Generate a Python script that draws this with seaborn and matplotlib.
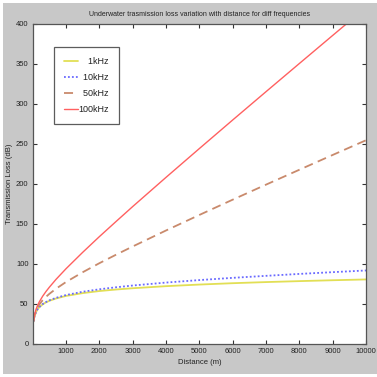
import numpy as np
import pandas as pd
import seaborn as sns
import matplotlib.pyplot as plt
from matplotlib.patches import Rectangle

# Distance samples (m) and transmission loss (dB) per frequency
distance = [25, 50, 100, 150, 200, 300, 400, 500, 700, 1000, 1500, 2000, 2500,
            3000, 4000, 5000, 6000, 7000, 8000, 9000, 10000]
tl_1khz = [28.0, 34.0, 40.0, 43.5, 46.0, 49.6, 52.1, 54.0, 56.9, 60.1, 63.6, 66.2,
           68.1, 69.7, 72.3, 74.3, 76.0, 77.4, 78.6, 79.7, 80.7]
tl_10khz = [28.0, 34.0, 40.1, 43.7, 46.3, 49.9, 52.5, 54.6, 57.7, 61.2, 65.3, 68.4,
            70.9, 73.1, 76.8, 79.9, 82.7, 85.2, 87.6, 89.8, 91.9]
tl_50khz = [28.4, 34.9, 41.7, 46.1, 49.5, 54.8, 59.0, 62.7, 69.1, 77.5, 89.7, 101.0,
            111.6, 121.9, 141.9, 161.3, 180.4, 199.2, 217.8, 236.3, 254.7]
tl_100khz = [28.8, 35.7, 43.4, 48.6, 52.8, 59.8, 65.7, 71.0, 80.8, 94.1, 114.6, 134.2,
             153.1, 171.8, 208.3, 244.3, 280.0, 315.4, 350.6, 385.7, 420.7]

labels = ["1kHz", "10kHz", "50kHz", "100kHz"]
x_ticks = [1000, 2000, 3000, 4000, 5000, 6000, 7000, 8000, 9000, 10000]
y_ticks = [0, 50, 100, 150, 200, 250, 300, 350, 400]

sns.set_style("ticks")
plt.rcParams["font.family"] = ["Liberation Sans", "DejaVu Sans"]

df = pd.DataFrame({
    "Distance": distance * 4,
    "TL": tl_1khz + tl_10khz + tl_50khz + tl_100khz,
    "Frequency": sum([[lab] * len(distance) for lab in labels], []),
})

styles = {
    "1kHz": dict(color="#e2df55", ls="-", lw=1.3),
    "10kHz": dict(color="#6a6aff", ls=(0, (1, 1.2)), lw=1.3),
    "50kHz": dict(color="#c98a6c", ls=(0, (5, 3)), lw=1.3),
    "100kHz": dict(color="#ff6060", ls="-", lw=1.0),
}
# pad labels so the legend text reads right-aligned (2 spaces = 1 digit)
legend_text = {"1kHz": "    1kHz", "10kHz": "  10kHz", "50kHz": "  50kHz", "100kHz": "100kHz"}

fig = plt.figure(figsize=(3.77, 3.77), dpi=100, facecolor="white")
fig.patches.append(Rectangle((3 / 377, 3 / 377), 1, 1 - 6 / 377,
                             transform=fig.transFigure, facecolor="#c8c8c8",
                             edgecolor="none", zorder=-10))
ax = fig.add_axes([32.7 / 377, 33 / 377, 333.3 / 377, 320 / 377])
ax.set_facecolor("white")

for lab in labels:
    st = styles[lab]
    sns.lineplot(data=df[df["Frequency"] == lab], x="Distance", y="TL", ax=ax,
                 color=st["color"], linestyle=st["ls"], linewidth=st["lw"],
                 label=legend_text[lab], estimator=None, sort=False)

ax.set_xlim(0, 10000)
ax.set_ylim(0, 400)
ax.set_xticks(x_ticks)
ax.set_yticks(y_ticks)
ax.tick_params(direction="in", length=3, width=0.8, colors="#333333",
               labelcolor="#222222", labelsize=5.5, top=True, right=True,
               labeltop=False, labelright=False, pad=3)
for sp in ax.spines.values():
    sp.set_visible(True)
    sp.set_color("#555555")
    sp.set_linewidth(0.9)

ax.set_title("Underwater trasmission loss variation with distance for diff frequencies",
             fontsize=5.0, color="#222222", pad=6)
ax.set_xlabel("Distance (m)", fontsize=5.5, color="#222222", labelpad=3)
ax.set_ylabel("Transmission Loss (dB)", fontsize=5.5, color="#222222", labelpad=3)
ax.yaxis.set_label_coords(-0.059, 0.5)

leg = ax.legend(loc="upper left", bbox_to_anchor=(0.064, 0.928), fontsize=6.5,
                frameon=True, fancybox=False, handlelength=1.45, handletextpad=0.1,
                labelspacing=0.75, borderpad=1.15, borderaxespad=0)
leg.get_frame().set_edgecolor("#333333")
leg.get_frame().set_linewidth(0.9)
for t in leg.get_texts():
    t.set_color("#222222")

fig.savefig("out.png", dpi=100, facecolor=fig.get_facecolor())
